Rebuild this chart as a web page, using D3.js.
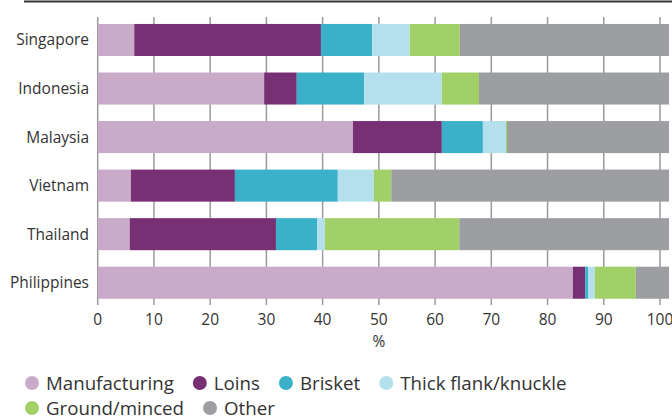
<!DOCTYPE html>
<html>
<head>
<meta charset="utf-8">
<script src="https://cdn.jsdelivr.net/npm/d3@7"></script>
<style>
html,body{margin:0;padding:0;background:#fff;}
svg{display:block;font-family:"Open Sans",Lato,sans-serif;}
</style>
</head>
<body>
<svg id="chart" width="672" height="419"></svg>
<script>
const countries = ["Singapore","Indonesia","Malaysia","Vietnam","Thailand","Philippines"];
const seriesNames = ["Manufacturing","Loins","Brisket","Thick flank/knuckle","Ground/minced","Other"];
const manufacturing = [6.5, 29.6, 45.4, 5.9, 5.7, 84.5];
const loins         = [33.2, 5.8, 15.8, 18.5, 26.0, 2.2];
const brisket       = [9.1, 12.0, 7.3, 18.3, 7.3, 0.5];
const thickFlank    = [6.7, 13.8, 4.1, 6.4, 1.4, 1.2];
const ground        = [8.9, 6.6, 0.2, 3.1, 23.9, 7.3];
const other         = [37.2, 33.8, 28.8, 49.4, 37.3, 5.9];
const xTicks = [0,10,20,30,40,50,60,70,80,90,100];
const colors = ["#c9abc9","#773073","#3ab1c9","#b3e0ec","#a1d068","#9d9ea2"];

const seriesValues = [manufacturing, loins, brisket, thickFlank, ground, other];
const rows = countries.map((c,i)=>{
  const r = {country:c};
  seriesNames.forEach((s,j)=> r[s] = seriesValues[j][i]);
  return r;
});

const svg = d3.select("#chart");
const x = d3.scaleLinear().domain([0,100]).range([97.7,660]);
const y = d3.scaleBand().domain(countries).range([15.7,307]).paddingInner(0.34).paddingOuter(0.17);

// top rule
svg.append("line").attr("x1",24).attr("x2",672).attr("y1",1.5).attr("y2",1.5)
  .attr("stroke","#333").attr("stroke-width",2);

// grid
svg.append("g").selectAll("line").data(xTicks).join("line")
  .attr("x1",d=>x(d)).attr("x2",d=>x(d)).attr("y1",17).attr("y2",305)
  .attr("stroke","#9a9a9a").attr("stroke-width",1.5);

// bars
svg.append("clipPath").attr("id","clip").append("rect")
  .attr("x",0).attr("y",0).attr("width",669).attr("height",419);
const stack = d3.stack().keys(seriesNames)(rows);
svg.append("g").attr("clip-path","url(#clip)")
  .selectAll("g").data(stack).join("g").attr("fill",(d,i)=>colors[i])
  .selectAll("rect").data(d=>d).join("rect")
  .attr("x",d=>x(d[0])).attr("width",d=>x(d[1])-x(d[0]))
  .attr("y",d=>y(d.data.country)).attr("height",y.bandwidth());

// y labels
svg.append("g").selectAll("text").data(countries).join("text")
  .attr("x",89).attr("y",d=>y(d)+y.bandwidth()/2).attr("dy","0.35em")
  .attr("text-anchor","end").attr("font-size",15.5).attr("fill","#333").text(d=>d);

// x axis labels
svg.append("g").selectAll("text").data(xTicks).join("text")
  .attr("x",d=>x(d)).attr("y",320).attr("dy","0.35em")
  .attr("text-anchor","middle").attr("font-size",15.5).attr("fill","#333").text(d=>d);
svg.append("text").attr("x",x(50)).attr("y",342).attr("dy","0.35em")
  .attr("text-anchor","middle").attr("font-size",15.5).attr("fill","#333").text("%");

// legend
const lg = svg.append("g");
let lx = 32, ly = 383;
seriesNames.forEach((s,i)=>{
  const t = lg.append("text").attr("font-size",18.7).attr("fill","#333").attr("dy","0.35em").text(s);
  const w = t.node().getComputedTextLength();
  if (lx + 14 + w > 660) { lx = 32; ly += 25; }
  lg.append("circle").attr("cx",lx).attr("cy",ly).attr("r",7).attr("fill",colors[i]);
  t.attr("x",lx+14).attr("y",ly);
  lx += 14 + w + 26;
});
</script>
</body>
</html>
